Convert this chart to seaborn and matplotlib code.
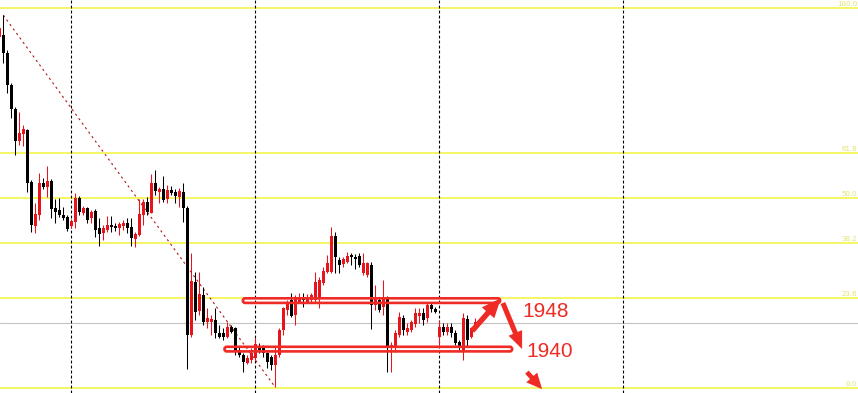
import numpy as np
import pandas as pd
import matplotlib
matplotlib.use("Agg")
import matplotlib.pyplot as plt
import seaborn as sns
from matplotlib.patches import FancyBboxPatch, FancyArrowPatch
import matplotlib.transforms as mtransforms

# ---------------- data ----------------
opens = [1991.5, 1991.8, 1988.9, 1983.6, 1979.6, 1974.3, 1975.5, 1976.2, 1967.6, 1960.3,
         1962.1, 1967.4, 1966.7, 1967.7, 1963.3, 1963.0, 1962.1, 1961.8, 1960.3, 1961.0,
         1964.9, 1962.5, 1963.3, 1961.6, 1962.8, 1960.0, 1959.2, 1959.7, 1960.5, 1960.3,
         1960.0, 1960.3, 1960.8, 1960.1, 1958.2, 1958.8, 1962.1, 1964.3, 1962.5, 1967.4,
         1965.9, 1966.4, 1964.8, 1966.3, 1965.9, 1965.1, 1965.9, 1963.3, 1942.3, 1951.1,
         1946.3, 1948.9, 1944.5, 1944.5, 1944.8, 1942.7, 1942.7, 1942.0, 1943.6, 1943.5,
         1939.9, 1939.0, 1937.7, 1938.2, 1938.5, 1940.3, 1940.2, 1939.4, 1938.7, 1937.4,
         1939.0, 1943.2, 1946.5, 1948.1, 1945.6, 1947.8, 1948.6, 1947.8, 1948.1, 1948.1,
         1948.4, 1950.9, 1952.7, 1952.7, 1958.7, 1954.7, 1954.0, 1954.4, 1955.5, 1955.2,
         1955.4, 1952.6, 1952.2, 1953.9, 1947.3, 1948.1, 1946.9, 1948.4, 1940.2, 1940.2,
         1942.3, 1945.1, 1942.8, 1943.2, 1944.1, 1945.5, 1946.0, 1945.1, 1947.3, 1946.6,
         1942.0, 1943.6, 1942.8, 1943.6, 1942.7, 1941.2, 1939.9, 1945.0, 1942.0, 1943.5]
highs = [1993.1, 1995.1, 1989.4, 1983.9, 1979.9, 1979.1, 1977.0, 1976.3, 1967.9, 1964.1,
         1969.1, 1968.2, 1970.2, 1968.1, 1964.8, 1964.9, 1963.4, 1962.1, 1961.5, 1965.8,
         1965.3, 1963.6, 1963.4, 1963.0, 1963.1, 1961.6, 1960.5, 1962.0, 1962.0, 1960.8,
         1961.0, 1961.3, 1961.6, 1961.6, 1959.3, 1964.8, 1964.8, 1965.1, 1968.9, 1969.6,
         1966.7, 1968.6, 1967.1, 1966.9, 1966.4, 1966.6, 1967.4, 1963.6, 1955.9, 1952.7,
         1952.7, 1950.2, 1946.8, 1945.6, 1946.8, 1944.0, 1943.5, 1944.5, 1944.0, 1943.6,
         1940.3, 1939.4, 1939.0, 1940.2, 1941.8, 1941.0, 1940.7, 1939.5, 1939.0, 1940.3,
         1943.5, 1946.9, 1948.1, 1949.3, 1948.9, 1949.3, 1949.3, 1949.1, 1949.3, 1952.7,
         1951.9, 1953.5, 1955.5, 1960.1, 1959.3, 1955.2, 1955.2, 1956.0, 1955.9, 1955.7,
         1955.9, 1955.9, 1954.4, 1954.4, 1950.6, 1948.6, 1951.4, 1948.8, 1941.2, 1943.2,
         1946.1, 1945.6, 1944.3, 1944.8, 1946.8, 1946.8, 1946.8, 1947.6, 1947.6, 1946.9,
         1944.8, 1944.3, 1944.3, 1944.3, 1943.2, 1941.5, 1946.0, 1945.6, 1943.6, 1945.1]
lows = [1991.3, 1987.2, 1982.3, 1978.1, 1972.0, 1973.7, 1973.5, 1965.9, 1959.3, 1959.2,
        1961.3, 1966.4, 1965.1, 1961.6, 1960.8, 1961.8, 1961.3, 1959.5, 1960.0, 1960.0,
        1962.1, 1962.1, 1960.8, 1960.8, 1958.5, 1957.0, 1958.0, 1959.3, 1959.3, 1959.5,
        1958.8, 1959.7, 1959.2, 1957.0, 1956.8, 1958.7, 1960.5, 1962.1, 1962.5, 1965.4,
        1964.1, 1964.3, 1964.1, 1965.4, 1964.1, 1963.4, 1961.0, 1936.7, 1942.0, 1944.8,
        1945.6, 1944.0, 1943.5, 1942.3, 1941.8, 1941.8, 1941.5, 1941.8, 1942.7, 1939.0,
        1938.7, 1936.2, 1937.5, 1937.7, 1938.2, 1939.4, 1938.7, 1936.9, 1936.6, 1933.7,
        1938.7, 1942.3, 1945.6, 1945.3, 1944.0, 1947.6, 1946.9, 1947.6, 1947.6, 1947.6,
        1946.8, 1950.6, 1952.6, 1952.6, 1952.6, 1952.6, 1953.5, 1954.2, 1953.9, 1953.2,
        1953.5, 1952.2, 1951.9, 1943.3, 1946.5, 1946.1, 1945.6, 1936.2, 1936.2, 1939.5,
        1942.0, 1942.3, 1942.3, 1942.8, 1943.6, 1944.3, 1944.0, 1944.5, 1946.1, 1946.0,
        1940.3, 1942.3, 1942.3, 1942.0, 1940.7, 1939.9, 1938.2, 1940.3, 1941.8, 1943.2]
closes = [1993.0, 1988.9, 1983.6, 1979.6, 1974.3, 1975.7, 1976.3, 1967.4, 1960.5, 1962.3,
          1967.4, 1966.7, 1967.7, 1963.1, 1962.6, 1962.1, 1961.6, 1959.8, 1961.1, 1964.9,
          1962.6, 1963.3, 1961.3, 1962.6, 1959.7, 1959.0, 1960.0, 1960.5, 1960.1, 1960.0,
          1960.6, 1960.8, 1960.0, 1958.3, 1959.0, 1962.3, 1964.3, 1962.6, 1967.4, 1966.1,
          1966.4, 1964.6, 1966.3, 1965.8, 1965.3, 1966.1, 1963.3, 1942.3, 1951.2, 1946.1,
          1949.1, 1944.5, 1945.1, 1945.0, 1942.7, 1942.0, 1942.0, 1943.6, 1942.8, 1939.5,
          1939.0, 1937.9, 1938.5, 1939.4, 1940.8, 1939.9, 1939.4, 1937.9, 1937.4, 1939.0,
          1943.2, 1946.8, 1947.6, 1945.5, 1948.4, 1948.6, 1948.1, 1948.4, 1948.9, 1951.1,
          1951.4, 1952.9, 1954.2, 1958.7, 1955.2, 1953.9, 1954.9, 1955.4, 1955.2, 1954.9,
          1953.9, 1954.2, 1954.2, 1947.3, 1948.6, 1946.5, 1948.6, 1940.3, 1940.7, 1942.7,
          1945.3, 1943.2, 1943.5, 1944.5, 1946.0, 1946.0, 1944.8, 1947.3, 1946.6, 1946.1,
          1943.6, 1942.8, 1943.6, 1942.7, 1941.0, 1940.3, 1945.1, 1941.5, 1943.5, 1944.5]

fib_ratios = [100.0, 61.8, 50.0, 38.2, 23.6, 0.0]
fib_high = 1996.3
fib_low = 1933.6
current_price = 1944.3
separator_bars = [18, 64, 110, 156]

zone_levels = [1948, 1940]
zone_labels = ["1948", "1940"]
zone_start = [60.9, 56.3]
zone_end = [125.2, 128.2]

# ---------------- style ----------------
RED = "#e8141c"
BLACK = "#000000"
ANN = "#ee2b24"
FIB = "#f2f23a"

sns.set_theme(style="white")
plt.rcParams['font.family'] = ['Liberation Sans', 'DejaVu Sans']

fig = plt.figure(figsize=(8.58, 3.93), dpi=100)
fig.patch.set_facecolor("white")
ax = fig.add_axes([0, 0, 1, 1])
ax.set_facecolor("white")
x0, x1 = 0.175, 214.675
y0, y1 = 1932.755, 1997.6
ax.set_xlim(x0, x1)
ax.set_ylim(y0, y1)
ax.axis("off")

ppx = 858 / (x1 - x0)
ppy = 393 / (y1 - y0)

df = pd.DataFrame({"open": opens, "high": highs, "low": lows, "close": closes})
df["x"] = np.arange(len(df))
df["up"] = df["close"] >= df["open"]
colors = np.where(df["up"], RED, BLACK)

# fib lines and labels
trans = mtransforms.blended_transform_factory(ax.transAxes, ax.transData)
for r in fib_ratios:
    lvl = fib_low + r / 100.0 * (fib_high - fib_low)
    ax.axhline(lvl, color=FIB, lw=1.1, zorder=1)
    ax.text(0.999, lvl + 0.8 / ppy, f"{r:.1f}", transform=trans, ha="right", va="bottom",
            fontsize=5.0, color="#e4e46a", family="DejaVu Sans", zorder=1)

# current price line
ax.axhline(current_price, color="#c4c4c4", lw=0.8, zorder=1)

# period separators
for b in separator_bars:
    ax.axvline(b, color="black", lw=0.8, linestyle=(0, (2.6, 1.9)), zorder=2)

# trend line (fib baseline from the high to the low)
i_hi = int(np.argmax(highs))
i_lo = int(np.argmin(lows))
sns.lineplot(x=[i_hi, i_lo], y=[highs[i_hi], lows[i_lo]], ax=ax, color="#b01818",
             lw=0.8, linestyle=(0, (2.0, 3.0)), zorder=2)

# candles
ax.vlines(df["x"], df["low"], df["high"], colors=colors, lw=0.75, zorder=3)
bottom = np.minimum(df["open"], df["close"])
height = np.maximum((df["close"] - df["open"]).abs(), 1.0 / ppy)
ax.bar(df["x"], height, bottom=bottom, width=0.78, color=colors, lw=0, zorder=4)

# zones (rounded outlines)
box_h = 4.6 / ppy
aspect = ppx / ppy
rad = 2.25 / ppx
for lvl, xs, xe in zip(zone_levels, zone_start, zone_end):
    p = FancyBboxPatch((xs, lvl - box_h / 2), xe - xs, box_h,
                       boxstyle=f"round,pad=0,rounding_size={rad}",
                       mutation_aspect=aspect, fill=False, ec=ANN, lw=1.9, zorder=6)
    ax.add_patch(p)

# labels
ax.text(130.8, zone_levels[0] - 16.2 / ppy, zone_labels[0], color=ANN, fontsize=15,
        ha="left", va="baseline", zorder=7)
ax.text(131.8, zone_levels[1] - 7.7 / ppy, zone_labels[1], color=ANN, fontsize=15,
        ha="left", va="baseline", zorder=7)

# arrows
def arrow(a, b, hl, hw, tw, ms=14):
    ap = FancyArrowPatch(a, b, arrowstyle=f"simple,head_length={hl},head_width={hw},tail_width={tw}",
                         mutation_scale=ms, color=ANN, lw=0, shrinkA=0, shrinkB=0, zorder=7)
    ax.add_patch(ap)

arrow((118.2, 1943.0), (125.4, 1948.4), 1.0, 0.85, 0.28)
arrow((125.9, 1947.6), (130.7, 1940.0), 0.9, 0.75, 0.26)
arrow((131.9, 1936.2), (135.7, 1933.4), 0.8, 0.75, 0.24)

fig.savefig("out.png", dpi=100, facecolor="white")
